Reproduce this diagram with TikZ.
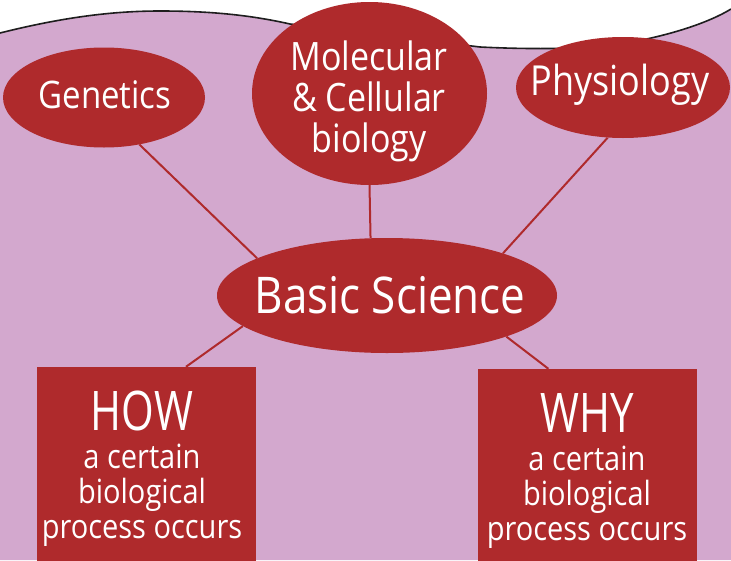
\documentclass[tikz,border=0pt]{standalone}
\usepackage{fontspec}
\setmainfont{Open Sans}
\usepackage{graphicx}
\usetikzlibrary{shapes.geometric}
\definecolor{bgpurple}{HTML}{D3A8CE}
\definecolor{nodered}{HTML}{AF2A2C}
\definecolor{edgeline}{HTML}{1E1E1E}
\newcommand\tallt[1]{\scalebox{1}[1.15]{#1}}
\newcommand\tallh[1]{\scalebox{1}[1.3]{#1}}
\begin{document}
\begin{tikzpicture}[x=1pt,y=-1pt,
  blob/.style={ellipse, fill=nodered, inner sep=0pt},
  panel/.style={rectangle, fill=nodered, inner sep=0pt, minimum width=219pt},
  labeltext/.style={text=white, inner sep=0pt, align=center},
  link/.style={draw=nodered, line width=2pt}]
\useasboundingbox (0,0) rectangle (731,560);
\fill[white] (0,0) rectangle (731,560);
\fill[bgpurple] (0,33) .. controls (60,18) and (110,11) .. (160,11) .. controls (210,11) and (250,15) .. (290,24) -- (480,47) .. controls (520,49) and (580,50) .. (620,44) .. controls (670,36) and (710,22) .. (731,9) -- (731,560) -- (0,560) -- cycle;
\draw[edgeline, line width=1.6pt] (0,33) .. controls (60,18) and (110,11) .. (160,11) .. controls (210,11) and (250,15) .. (290,24) -- (480,47) .. controls (520,49) and (580,50) .. (620,44) .. controls (670,36) and (710,22) .. (731,9);

% ellipses
\node[blob, minimum width=202pt, minimum height=100pt] (gen) at (104,97.5) {};
\node[blob, minimum width=235pt, minimum height=183pt] (mol) at (369.5,93.5) {};
\node[blob, minimum width=214pt, minimum height=101pt] (phys) at (623,87.5) {};
\node[blob, minimum width=340pt, minimum height=115pt] (basic) at (387,295.5) {};

% boxes
\node[panel, minimum height=195pt] (how) at (146.5,464.5) {};
\node[panel, minimum height=193pt] (why) at (587.5,465.5) {};

% texts
\node[labeltext, font=\fontsize{33}{40}\selectfont] (gent) at (105,94.5) {\tallt{Genetics}};
\node[labeltext, font=\fontsize{34}{41}\selectfont] (molt) at (369,101) {\tallt{Molecular}\\\tallt{\& Cellular}\\\tallt{biology}};
\node[labeltext, font=\fontsize{36}{40}\selectfont] (physt) at (620,85) {\tallt{Physiology}};
\node[labeltext, font=\fontsize{44}{50}\selectfont] (basict) at (390,295) {\tallt{Basic Science}};
\node[labeltext, anchor=north, font=\fontsize{29}{35}\selectfont] (howt) at (142,391) {{\fontsize{42}{35}\selectfont\tallh{HOW}}\\[3pt]\tallt{a certain}\\\tallt{biological}\\\tallt{process occurs}};
\node[labeltext, anchor=north, font=\fontsize{29}{35}\selectfont] (whyt) at (587,393) {{\fontsize{42}{35}\selectfont\tallh{WHY}}\\[3pt]\tallt{a certain}\\\tallt{biological}\\\tallt{process occurs}};

% connectors
\draw[link] (gen.-53) -- (basic.164);
\draw[link] (mol.south) -- (basic.106.5);
\draw[link] (phys.-107) -- (basic.20);
\draw[link] (basic.-168) -- (how.68);
\draw[link] (basic.-19) -- (why.112);
\end{tikzpicture}
\end{document}
